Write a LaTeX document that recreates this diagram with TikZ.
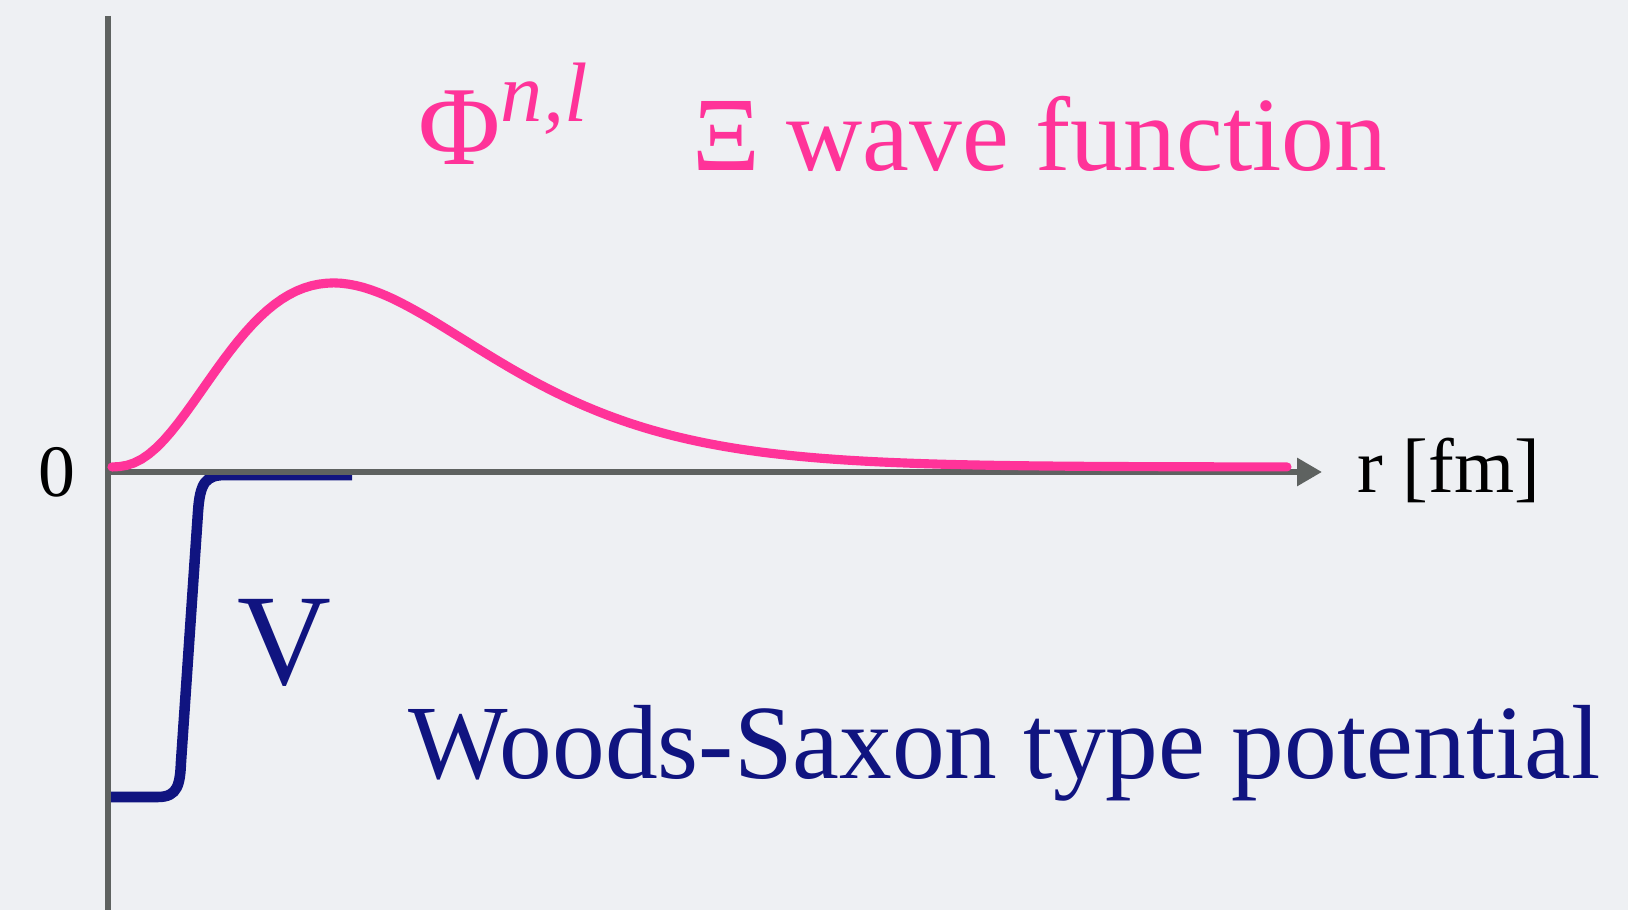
\documentclass[tikz,border=0pt]{standalone}
\usepackage{fontspec}
\setmainfont{Liberation Serif}
\usetikzlibrary{arrows.meta}
\definecolor{wavePink}{RGB}{255,51,153}
\definecolor{potNavy}{RGB}{16,20,128}
\definecolor{axisGray}{RGB}{94,98,96}
\definecolor{slideBg}{RGB}{238,240,243}
\begin{document}
\begin{tikzpicture}[
    x=1cm,
    y=1cm,
    axis/.style={draw=axisGray, line width=1.7pt},
    wave/.style={draw=wavePink, line width=2.6pt, line cap=round},
    potential/.style={draw=potNavy, line width=3.0pt},
    txt/.style={inner sep=0pt, anchor=base west}
]
\fill[slideBg] (-1.08,-4.38) rectangle (15.20,4.72);
\path[use as bounding box] (-1.08,-4.38) rectangle (15.20,4.72);

% Woods-Saxon well, deep inside, rising steeply to zero.
\draw[potential]
    (0.02,-3.25) -- (0.50,-3.25)
    .. controls (0.70,-3.25) and (0.72,-3.12) .. (0.73,-2.90)
    -- (0.90,-0.40)
    .. controls (0.92,-0.10) and (0.98,-0.03) .. (1.18,-0.03)
    -- (2.44,-0.03);

% Axes: r to the right, origin at the crossing.
\draw[axis] (0,4.56) -- (0,-4.38);
\draw[axis, -{Triangle[length=0.25cm, width=0.27cm]}] (-0.03,0) -- (12.14,0);

% Radial wave function ~ r^3 exp(-r/b), peak at r = 2.25.
\draw[wave] plot[domain=0.04:11.79, samples=160]
    (\x, {0.05 + 1.84*pow(\x/2.25*exp(1 - \x/2.25), 3)});

\node[anchor=base, inner sep=0pt, font=\fontsize{21}{25}\selectfont] (zero)
    at (-0.51,-0.25) {0};
\node[txt, font=\fontsize{22}{26}\selectfont] (rfm) at (12.49,-0.21) {r [fm]};

\node[txt, text=wavePink, font=\fontsize{32}{38}\selectfont] (phi) at (3.10,3.07)
    {Φ\raisebox{0.43cm}{\fontsize{24}{29}\selectfont\itshape n,l}};
\node[txt, text=wavePink, font=\fontsize{30}{36}\selectfont] (xiwave) at (5.84,3.01)
    {Ξ wave function};

\node[txt, text=potNavy, font=\fontsize{37}{44}\selectfont] (vlabel) at (1.29,-2.13) {V};
\node[txt, text=potNavy, font=\fontsize{30}{36}\selectfont] (wslabel) at (3.00,-3.07)
    {Woods-Saxon type potential};
\end{tikzpicture}
\end{document}
